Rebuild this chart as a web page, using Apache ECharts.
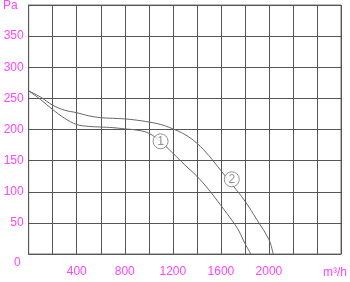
<!DOCTYPE html>
<html>
<head>
<meta charset="utf-8">
<script src="https://cdn.jsdelivr.net/npm/echarts@6/dist/echarts.min.js"></script>
<style>html,body{margin:0;padding:0;background:#fff;}#c{width:350px;height:282px;}</style>
</head>
<body>
<div id="c"></div>
<script>
// Curve 1 (lower) — [airflow m³/h, pressure Pa]
const curve1 = [[0,262],[100,248],[200,232],[300,218],[400,208],[500,205],[600,204],[700,203],[800,201],[900,199],[1000,194],[1100,180],[1200,162],[1300,143],[1400,125],[1500,103],[1600,78],[1700,52],[1750,37],[1800,17],[1850,0]];
// Curve 2 (upper)
const curve2 = [[0,262],[100,252],[200,239],[300,231],[400,227],[500,222],[600,219],[700,218],[800,217],[900,215],[1000,212],[1100,208],[1200,201],[1300,192],[1400,178],[1500,158],[1600,134],[1700,110],[1800,85],[1900,55],[2000,23],[2035,0]];
// Curve tags (circled numbers)
const tagNames = ['1','2'];
const tagPoints = [[1098,181],[1691,120]];
// Tick labels
const xTickLabels = [400,800,1200,1600,2000];
const yTickLabels = [0,50,100,150,200,250,300,350];

const chart = echarts.init(document.getElementById('c'));
const font = '"Liberation Sans", Arial, sans-serif';
const pink = '#ff44ff';
chart.setOption({
  animation: false,
  backgroundColor: '#fff',
  grid: {left: 27, right: 3, top: 5, bottom: 28, show: true, borderColor: '#777', borderWidth: 1},
  xAxis: {
    type: 'value', min: 0, max: 2600, interval: 200,
    name: 'm³/h', nameLocation: 'end', nameGap: -18,
    nameTextStyle: {color: pink, fontFamily: font, fontSize: 12, align: 'left', verticalAlign: 'top', padding: [13,0,0,0]},
    axisLine: {show: true, lineStyle: {color: '#555', width: 1}},
    axisTick: {show: false},
    splitLine: {show: true, lineStyle: {color: '#555', width: 1}},
    axisLabel: {color: pink, fontFamily: font, fontSize: 12, margin: 12,
      formatter: v => xTickLabels.includes(v) ? String(v) : ''}
  },
  yAxis: {
    type: 'value', min: 0, max: 400, interval: 50,
    name: 'Pa', nameLocation: 'end', nameGap: -1,
    nameTextStyle: {color: pink, fontFamily: font, fontSize: 12, align: 'right', verticalAlign: 'middle', padding: [0,11,0,0]},
    axisLine: {show: true, lineStyle: {color: '#555', width: 1}},
    axisTick: {show: false},
    splitLine: {show: true, lineStyle: {color: '#555', width: 1}},
    axisLabel: {color: pink, fontFamily: font, fontSize: 12, margin: 5,
      formatter: v => v === 0 ? '{z|0}' : (yTickLabels.includes(v) ? String(v) : ''),
      rich: {z: {color: pink, fontFamily: font, fontSize: 12, padding: [18,3,0,0]}}}
  },
  series: [
    {type: 'line', data: curve1, showSymbol: false, smooth: 0.4,
     lineStyle: {color: '#666', width: 1}, z: 3},
    {type: 'line', data: curve2, showSymbol: false, smooth: 0.4,
     lineStyle: {color: '#666', width: 1}, z: 3},
    {type: 'scatter', data: tagPoints.map((p, i) => ({value: p, name: tagNames[i]})),
     symbol: 'circle', symbolSize: 15, z: 5,
     itemStyle: {color: '#fff', borderColor: '#777', borderWidth: 1},
     label: {show: true, position: 'inside', formatter: p => p.name, color: '#777', fontFamily: font, fontSize: 12}}
  ]
});
</script>
</body>
</html>
